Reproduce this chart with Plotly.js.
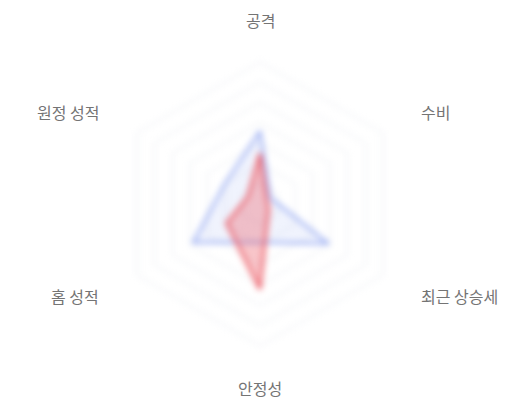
<!DOCTYPE html>
<html>
<head>
<meta charset="utf-8">
<script src="https://cdn.plot.ly/plotly-3.0.1.min.js"></script>
<style>
  html, body { margin: 0; padding: 0; background: #fff; }
  #chart { width: 520px; height: 400px; }
  #chart .polarlayer { filter: blur(3px); }
</style>
</head>
<body>
<div id="chart"></div>
<script>
// Categories (clockwise from top)
const categories = ['공격', '수비', '최근 상승세', '안정성', '홈 성적', '원정 성적'];
// Series values (scale 0–7)
const blueValues = [3.6, 0.6, 3.9, 1.9, 3.8, 2.0];
const redValues  = [2.5, 0.4, 0.5, 4.2, 1.9, 0.7];
// Radial grid ticks
const ringTicks = [1, 2, 3, 4, 5, 6, 7];

function closed(arr) { return arr.concat([arr[0]]); }

const W = 520, H = 400;
const cx = 260, cy = 204;   // centre in pixels (from top-left)
const R = 142;              // outer hexagon radius
const labelR = 184;         // category label radius

const traces = [
  {
    type: 'scatterpolar',
    r: closed(blueValues),
    theta: closed(categories),
    fill: 'toself',
    fillcolor: 'rgba(110,140,235,0.10)',
    line: { color: 'rgba(95,125,235,0.8)', width: 2 },
    mode: 'lines',
    hoverinfo: 'skip',
    showlegend: false
  },
  {
    type: 'scatterpolar',
    r: closed(redValues),
    theta: closed(categories),
    fill: 'toself',
    fillcolor: 'rgba(235,90,100,0.35)',
    line: { color: 'rgba(235,80,90,0.85)', width: 3 },
    mode: 'lines',
    hoverinfo: 'skip',
    showlegend: false
  }
];

// Category labels as annotations placed around the radar
const annotations = categories.map((c, i) => {
  const a = (90 - 60 * i) * Math.PI / 180;
  const px = cx + labelR * Math.cos(a);
  const py = cy - labelR * Math.sin(a);
  const cosA = Math.cos(a);
  return {
    text: c,
    xref: 'paper', yref: 'paper',
    x: px / W, y: 1 - py / H,
    xanchor: cosA > 0.1 ? 'left' : (cosA < -0.1 ? 'right' : 'center'),
    yanchor: 'middle',
    showarrow: false,
    font: { size: 16, color: '#747474' }
  };
});

const layout = {
  width: W,
  height: H,
  margin: { l: 0, r: 0, t: 0, b: 0 },
  paper_bgcolor: '#ffffff',
  font: { family: '"Noto Sans CJK KR", "Noto Sans", sans-serif', size: 16, color: '#747474' },
  showlegend: false,
  annotations: annotations,
  polar: {
    domain: {
      x: [(cx - R) / W, (cx + R) / W],
      y: [(H - cy - R) / H, (H - cy + R) / H]
    },
    bgcolor: 'rgba(0,0,0,0)',
    gridshape: 'linear',
    radialaxis: {
      range: [0, 7],
      tickvals: ringTicks,
      showticklabels: false,
      ticks: '',
      showline: false,
      showgrid: true,
      gridcolor: '#e5e8ef',
      gridwidth: 1
    },
    angularaxis: {
      rotation: 90,
      direction: 'clockwise',
      showline: true,
      linecolor: '#e5e8ef',
      linewidth: 1,
      showgrid: false,
      showticklabels: false,
      ticks: ''
    }
  }
};

Plotly.newPlot('chart', traces, layout, { displayModeBar: false, staticPlot: true });
</script>
</body>
</html>
